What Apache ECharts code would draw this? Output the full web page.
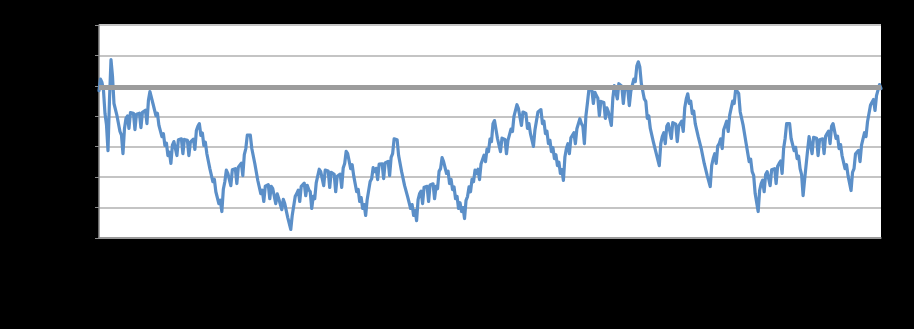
<!DOCTYPE html>
<html>
<head>
<meta charset="utf-8">
<script src="https://cdn.jsdelivr.net/npm/echarts@6/dist/echarts.min.js"></script>
<style>
html,body{margin:0;padding:0;background:#000;}
#chart{width:914px;height:329px;}
</style>
</head>
<body>
<div id="chart"></div>
<script>
// Series values (y-axis 0..70, 7 gridline intervals)
const seriesValues = [
48.4,52.2,51.1,48.4,40.9,37.2,28.7,45.5,58.6,53.2,
44.2,44.6,40.2,40.0,35.0,33.8,27.7,35.9,39.3,40.1,
36.0,41.2,41.5,41.0,35.6,40.7,40.9,41.0,36.3,41.3,
41.5,42.0,37.6,45.3,48.1,48.6,44.2,44.6,40.2,41.0,
37.0,37.6,33.3,34.3,30.4,31.2,27.1,28.2,24.5,30.5,
31.7,31.8,27.1,32.3,32.7,32.6,27.7,32.4,32.3,32.1,
27.1,31.5,31.0,32.5,29.1,35.3,36.7,37.6,33.7,34.5,
30.4,31.5,27.7,27.7,22.8,23.1,18.5,19.3,15.2,15.7,
11.3,12.4,8.7,16.0,18.5,22.3,21.2,21.6,17.2,22.4,
22.8,22.8,17.9,23.3,23.8,24.6,20.5,27.4,29.4,33.8,
33.3,33.8,29.4,29.4,24.5,24.1,18.9,19.2,14.6,15.7,
12.0,17.0,17.2,17.5,12.9,17.0,16.2,16.2,11.3,14.5,
12.9,13.5,9.3,12.7,11.3,11.4,6.7,6.8,2.8,7.5,
8.0,13.7,14.6,15.7,12.0,17.0,17.2,18.0,13.9,17.3,
15.9,15.2,9.7,13.7,12.9,18.1,18.5,22.6,21.8,21.9,
17.2,22.3,22.5,22.0,16.6,21.6,21.8,20.9,15.2,20.3,
20.5,21.0,16.6,23.0,24.5,28.5,27.7,27.7,22.8,24.1,
20.5,20.3,15.2,16.0,12.0,13.3,9.7,11.0,7.4,12.6,
12.9,18.6,19.5,23.1,21.8,22.9,19.2,24.3,24.5,24.4,
19.5,24.7,25.1,25.2,20.5,26.5,27.7,32.6,32.7,32.3,
27.1,26.9,21.8,21.9,17.2,17.8,13.6,14.1,9.7,11.0,
7.4,9.0,5.7,12.6,14.6,15.4,11.3,16.7,17.2,17.0,
12.0,17.4,17.9,17.8,12.9,17.0,16.2,21.9,22.8,26.4,
25.1,25.6,21.2,22.0,17.9,19.3,15.9,16.8,12.9,13.7,
9.7,11.6,8.7,10.0,6.4,12.4,13.6,16.8,15.2,19.3,
18.5,22.3,21.2,22.6,19.2,24.3,24.5,27.2,25.1,29.2,
28.4,32.5,31.7,37.6,38.6,38.1,32.7,33.0,28.4,32.8,
32.3,32.4,27.7,32.1,31.7,35.8,35.0,40.0,40.2,43.8,
42.5,42.2,37.0,41.4,40.9,40.9,36.0,37.6,34.3,34.6,
30.1,35.5,36.0,41.4,41.9,42.2,37.6,38.4,34.3,35.1,
31.0,32.1,28.4,29.7,26.1,27.4,23.8,24.9,21.2,22.5,
18.9,26.6,29.4,31.0,27.7,32.9,33.3,34.6,31.0,35.9,
36.0,39.2,37.6,36.7,31.0,40.0,44.2,48.7,48.4,48.7,
44.2,47.9,46.8,45.9,40.2,44.9,44.8,44.5,39.3,42.8,
41.5,41.7,37.0,46.0,50.1,50.3,45.7,50.7,50.8,49.9,
44.2,49.1,49.1,48.7,43.5,48.2,48.1,52.2,51.4,56.5,
57.9,56.2,50.8,50.7,45.7,44.9,39.3,40.1,36.0,36.3,
31.7,32.1,27.7,28.2,23.8,31.0,33.3,34.6,31.0,36.7,
37.6,37.6,32.7,37.9,38.3,37.4,31.7,36.8,37.0,38.4,
35.0,42.8,45.7,47.4,44.2,45.0,40.9,41.7,37.6,37.9,
33.3,33.8,29.4,29.4,24.5,24.9,20.5,21.1,16.9,23.9,
26.1,27.7,24.5,30.2,31.0,32.6,29.4,35.6,37.0,38.4,
35.0,40.4,40.9,45.0,44.2,48.9,48.7,47.5,41.5,41.7,
37.0,36.4,31.0,30.5,25.1,25.9,21.8,20.6,14.6,14.1,
8.7,15.7,17.9,19.0,15.2,20.9,21.8,21.9,17.2,22.4,
22.8,22.8,17.9,23.6,24.5,25.3,21.2,29.4,32.7,37.6,
37.6,37.6,32.7,33.1,28.7,29.8,26.1,26.9,22.8,20.8,
13.9,19.1,19.5,28.8,33.3,32.9,27.7,33.1,33.7,32.8,
27.1,32.3,32.7,32.6,27.7,33.4,34.3,35.1,31.0,36.7,
37.6,37.6,32.7,33.5,29.4,30.7,27.1,27.4,22.8,24.1,
20.5,20.5,15.6,21.6,22.8,27.7,27.7,28.8,25.1,30.5,
31.0,34.6,33.3,38.2,38.3,43.7,44.2,45.5,41.9,46.8,
46.8,50.4,49.1
];
// Categories (x-axis labels not visible in the reference)
const categories = seriesValues.map((_, i) => String(i + 1));
// Reference level (thick grey horizontal line)
const referenceLevel = 49.4;
// Y-axis scale
const yMin = 0, yMax = 70, yStep = 10;

const chart = echarts.init(document.getElementById('chart'), null, {renderer: 'canvas'});
chart.setOption({
  backgroundColor: '#000000',
  animation: false,
  grid: {
    left: 99, right: 33, top: 25, bottom: 91,
    show: true, backgroundColor: '#ffffff', borderWidth: 0
  },
  xAxis: {
    type: 'category',
    data: categories,
    boundaryGap: false,
    axisLine: {show: true, lineStyle: {color: '#8c8c8c', width: 1.5}},
    axisTick: {show: false},
    axisLabel: {show: false},
    splitLine: {show: false}
  },
  yAxis: {
    type: 'value',
    min: yMin, max: yMax, interval: yStep,
    axisLine: {show: true, lineStyle: {color: '#8c8c8c', width: 1.5}},
    axisTick: {show: true, length: 4, lineStyle: {color: '#8c8c8c', width: 1}},
    axisLabel: {show: false},
    splitLine: {show: true, lineStyle: {color: '#c4c4c4', width: 2}}
  },
  series: [
    {
      type: 'line',
      data: [],
      silent: true,
      z: 1,
      markLine: {
        silent: true,
        symbol: ['none', 'none'],
        label: {show: false},
        lineStyle: {color: '#9c9c9c', width: 5, type: 'solid'},
        data: [{yAxis: referenceLevel}]
      }
    },
    {
      type: 'line',
      data: seriesValues,
      showSymbol: false,
      symbol: 'none',
      sampling: null,
      z: 3,
      lineStyle: {color: '#5b8fc8', width: 3.2, join: 'round', cap: 'round'},
      itemStyle: {color: '#5b8fc8'}
    }
  ]
});
</script>
</body>
</html>
